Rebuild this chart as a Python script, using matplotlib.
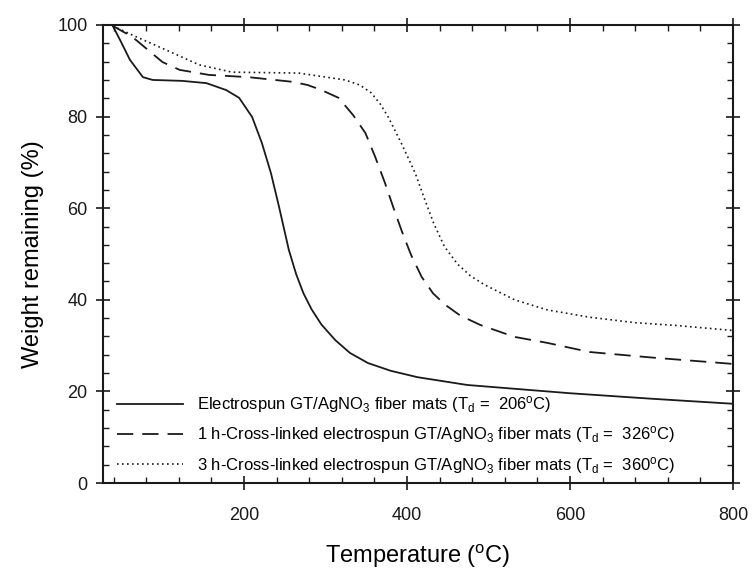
#!/usr/bin/env python3
# -*- coding: utf-8 -*-

# TGA curves of electrospun GT/AgNO3 fiber mats (weight remaining vs temperature)

import matplotlib
matplotlib.use("Agg")
import matplotlib.pyplot as plt
from matplotlib.ticker import MultipleLocator

plt.rcParams['font.family'] = ['Liberation Sans', 'DejaVu Sans']
plt.rcParams['mathtext.default'] = 'regular'

# Electrospun GT/AgNO3 fiber mats
temp_as_spun = [39, 48, 60, 76, 88, 124, 154, 178, 194, 210, 222, 233, 243,
                255, 264, 273, 283, 295, 312, 330, 352, 380, 413, 474, 523, 600,
                700, 800]
wt_as_spun = [99.8, 96.7, 92.4, 88.6, 88.0, 87.8, 87.3, 85.8, 84.1, 79.9, 74.2,
              67.7, 60.3, 50.9, 45.6, 41.4, 37.9, 34.6, 31.2, 28.4, 26.2, 24.5,
              23.1, 21.4, 20.7, 19.6, 18.4, 17.3]

# 1 h cross-linked
temp_1h = [39, 63, 100, 121, 157, 206, 259, 278, 295, 316, 334, 349, 361, 373,
           383, 394, 405, 418, 432, 447, 465, 490, 532, 572, 624, 700, 800]
wt_1h = [99.8, 97.4, 91.9, 90.2, 89.1, 88.6, 87.6, 86.9, 85.8, 84.1, 80.3, 76.4,
         71.2, 65.5, 60.3, 54.8, 49.8, 45.0, 41.4, 38.9, 36.6, 34.5, 31.9, 30.6,
         28.6, 27.4, 26.0]

# 3 h cross-linked
temp_3h = [39, 63, 105, 145, 185, 267, 324, 342, 356, 367, 377, 393, 410, 422,
           433, 446, 462, 478, 495, 532, 572, 624, 680, 730, 800]
wt_3h = [99.8, 97.8, 94.5, 91.3, 89.7, 89.5, 88.0, 86.9, 85.2, 82.8, 79.9, 74.2,
         67.7, 61.8, 56.6, 51.6, 47.8, 45.2, 43.3, 40.0, 37.8, 36.2, 35.0, 34.4,
         33.3]

labels = [
    r"Electrospun GT/AgNO$_3$ fiber mats (T$_d$ =  206$^o$C)",
    r"1 h-Cross-linked electrospun GT/AgNO$_3$ fiber mats (T$_d$ =  326$^o$C)",
    r"3 h-Cross-linked electrospun GT/AgNO$_3$ fiber mats (T$_d$ =  360$^o$C)",
]

fig = plt.figure(figsize=(7.53, 5.77), dpi=100)
ax = fig.add_axes([0.1368, 0.1629, 0.8366, 0.7938])

col = '#1a1a1a'
ax.plot(temp_as_spun, wt_as_spun, color=col, lw=1.3, ls='-', label=labels[0])
ax.plot(temp_1h, wt_1h, color=col, lw=1.3, dashes=(9, 5), label=labels[1])
ax.plot(temp_3h, wt_3h, color=col, lw=1.2, ls=(0, (1, 2)), label=labels[2])

ax.set_xlim(27, 800)
ax.set_ylim(0, 100)
ax.xaxis.set_major_locator(MultipleLocator(200))
ax.xaxis.set_minor_locator(MultipleLocator(40))
ax.yaxis.set_major_locator(MultipleLocator(20))
ax.yaxis.set_minor_locator(MultipleLocator(4))
ax.tick_params(which='major', direction='inout', length=10, width=1.2,
               top=True, right=True, labelsize=13, pad=6, colors=col)
ax.tick_params(which='minor', direction='in', length=4, width=1.0,
               top=True, right=True, colors=col)
ax.tick_params(axis='x', which='major', pad=12)
for s in ax.spines.values():
    s.set_linewidth(1.5)
    s.set_color(col)

ax.set_xlabel("Temperature ($^o$C)", fontsize=17, labelpad=14)
ax.set_ylabel("Weight remaining (%)", fontsize=17, labelpad=10)

ax.legend(loc='lower left', bbox_to_anchor=(-0.005, -0.02), frameon=False,
          fontsize=12, handlelength=4.0, handletextpad=0.8, labelspacing=0.55,
          borderaxespad=0.6)

fig.savefig("out.png", dpi=100)
